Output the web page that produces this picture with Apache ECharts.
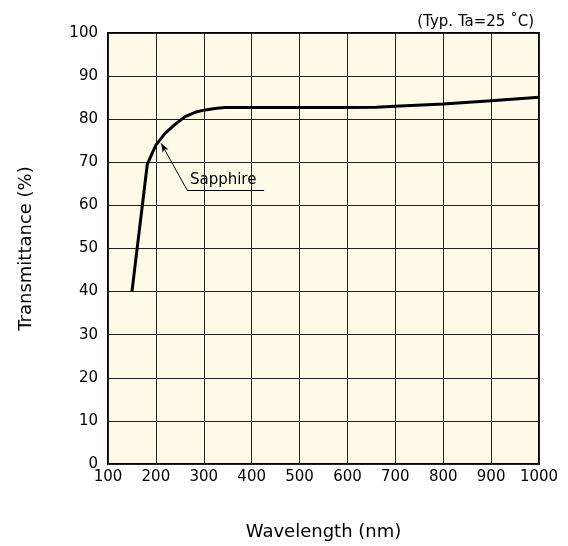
<!DOCTYPE html>
<html><head><meta charset="utf-8">
<script src="https://cdn.jsdelivr.net/npm/echarts@6/dist/echarts.min.js"></script>
<style>html,body{margin:0;padding:0;background:#fff}#c{width:568px;height:546px}</style>
</head><body><div id="c"></div>
<script>
var wavelengths = [150, 182, 191, 200, 219, 240, 261, 282, 300, 323, 344, 400, 500, 600, 660, 700, 800, 900, 1000];
var transmittance = [40, 69.5, 71.8, 74.0, 76.7, 78.8, 80.6, 81.6, 82.1, 82.5, 82.7, 82.7, 82.7, 82.7, 82.8, 83.0, 83.5, 84.3, 85.1];
var xTicks = [100, 200, 300, 400, 500, 600, 700, 800, 900, 1000];
var yTicks = [0, 10, 20, 30, 40, 50, 60, 70, 80, 90, 100];
var seriesName = 'Sapphire';
var noteText = '(Typ. Ta=25 ˚C)';
var leaderFrom = [265, 63.6], leaderTip = [211, 74.4], underlineEnd = [426, 63.6];

var font = '"DejaVu Sans", sans-serif';
var chart = echarts.init(document.getElementById('c'), null, {renderer: 'canvas'});
var pts = wavelengths.map(function (w, i) { return [w, transmittance[i]]; });
chart.setOption({
  animation: false,
  backgroundColor: '#fff',
  title: {text: noteText, right: 29, top: 10, textStyle: {fontFamily: font, fontSize: 15, fontWeight: 'normal', color: '#000'}},
  grid: {left: 108, right: 29, top: 33, bottom: 82, show: true, backgroundColor: '#fffae8', borderColor: '#000', borderWidth: 2},
  xAxis: {type: 'value', min: xTicks[0], max: xTicks[xTicks.length - 1], interval: 100,
    name: 'Wavelength (nm)', nameLocation: 'middle', nameGap: 59,
    nameTextStyle: {fontFamily: font, fontSize: 18, color: '#000'},
    axisLine: {show: false}, axisTick: {show: false},
    axisLabel: {fontFamily: font, fontSize: 15, color: '#000', margin: 6, formatter: function (v) { return String(v); }},
    splitLine: {show: true, lineStyle: {color: '#222', width: 1}}},
  yAxis: {type: 'value', min: yTicks[0], max: yTicks[yTicks.length - 1], interval: 10,
    name: 'Transmittance (%)', nameLocation: 'middle', nameGap: 73,
    nameTextStyle: {fontFamily: font, fontSize: 18, color: '#000'},
    axisLine: {show: false}, axisTick: {show: false},
    axisLabel: {fontFamily: font, fontSize: 15, color: '#000', margin: 10},
    splitLine: {show: true, lineStyle: {color: '#222', width: 1}}},
  series: [{
    name: seriesName, type: 'line', data: pts, showSymbol: false, smooth: false,
    lineStyle: {color: '#000', width: 3, join: 'round'},
    markLine: {silent: true, animation: false,
      lineStyle: {color: '#000', width: 1, type: 'solid'},
      label: {show: false},
      data: [
        [{coord: leaderFrom, symbol: 'none'}, {coord: leaderTip, symbol: 'arrow', symbolSize: [5, 9]}],
        [{coord: leaderFrom, symbol: 'none'}, {coord: underlineEnd, symbol: 'none'}]
      ]},
    markPoint: {silent: true, symbol: 'circle', symbolSize: 0,
      label: {show: true, formatter: seriesName, position: 'top', distance: 2, fontFamily: font, fontSize: 15, color: '#000'},
      data: [{coord: [(leaderFrom[0] + underlineEnd[0]) / 2 - 5, leaderFrom[1]]}]}
  }]
});
</script></body></html>
